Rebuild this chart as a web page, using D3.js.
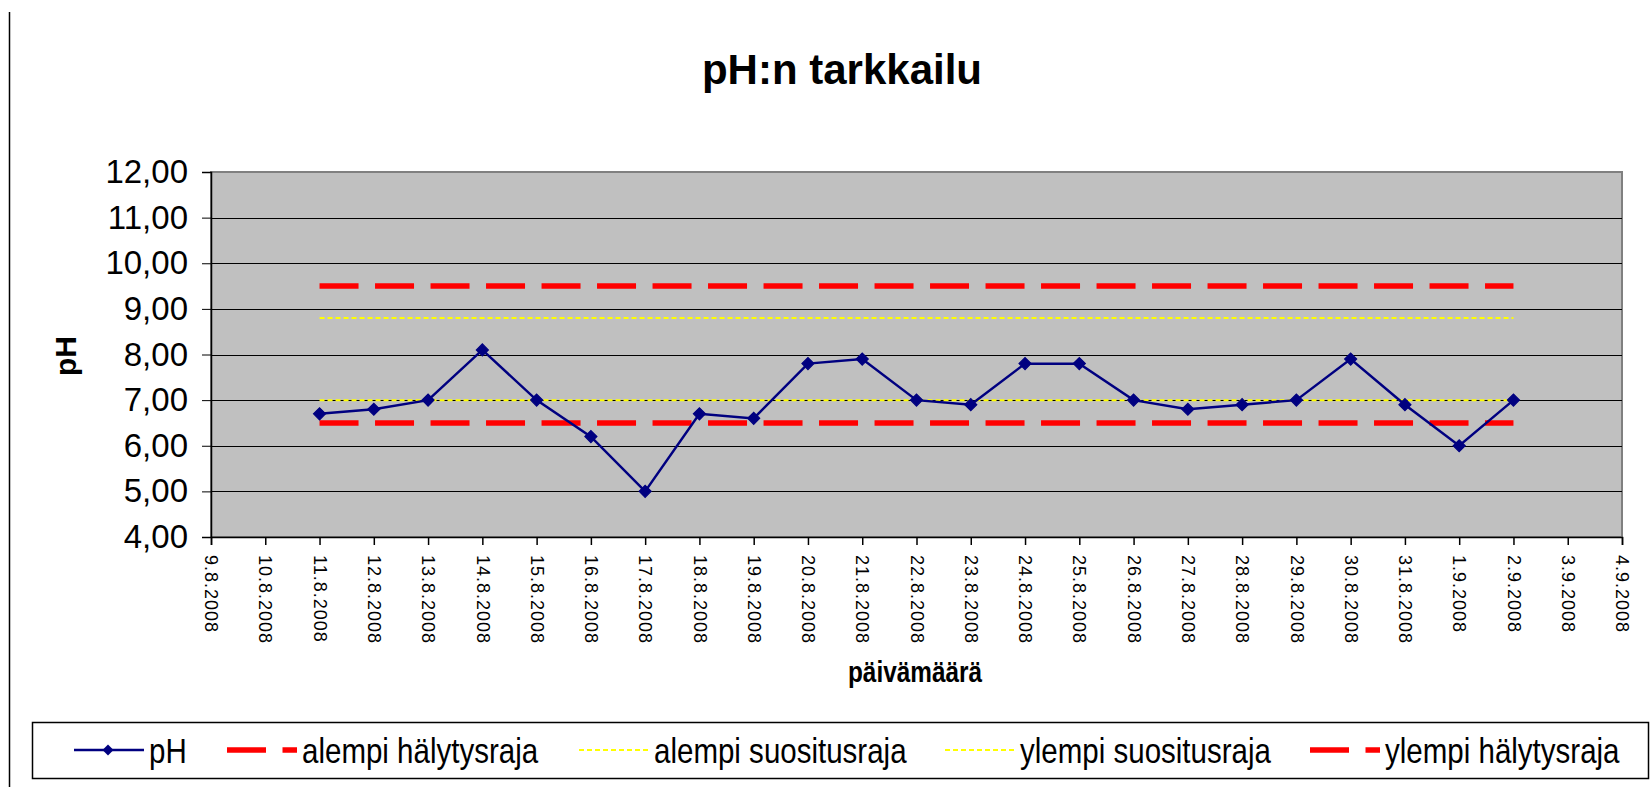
<!DOCTYPE html>
<html lang="fi">
<head>
    <title>pH:n tarkkailu</title>
    <script src="https://d3js.org/d3.v7.min.js" charset="utf-8"></script>
    <style type="text/css">
        body
        {
            margin: 0;
            background-color: white;
        }
        svg
        {
            display: block;
            font-family: "Liberation Sans", Arial, sans-serif;
        }
        #title
        {
            font-size: 42px;
            font-weight: 700;
        }
        .axis_title
        {
            font-weight: 700;
        }
        .legend_text
        {
            font-size: 36px;
        }
    </style>
</head>
<body>
    <div id="chart_div"></div>
    <script>
    "use strict";
    // x axis tick labels (every day from 9.8. to 4.9.2008)
    var tick_labels = ["9.8.2008", "10.8.2008", "11.8.2008", "12.8.2008", "13.8.2008", "14.8.2008",
        "15.8.2008", "16.8.2008", "17.8.2008", "18.8.2008", "19.8.2008", "20.8.2008", "21.8.2008",
        "22.8.2008", "23.8.2008", "24.8.2008", "25.8.2008", "26.8.2008", "27.8.2008", "28.8.2008",
        "29.8.2008", "30.8.2008", "31.8.2008", "1.9.2008", "2.9.2008", "3.9.2008", "4.9.2008"];
    var y_ticks = [4, 5, 6, 7, 8, 9, 10, 11, 12];

    // measurement dates
    var dates = ["11.8.2008", "12.8.2008", "13.8.2008", "14.8.2008", "15.8.2008", "16.8.2008",
        "17.8.2008", "18.8.2008", "19.8.2008", "20.8.2008", "21.8.2008", "22.8.2008", "23.8.2008",
        "24.8.2008", "25.8.2008", "26.8.2008", "27.8.2008", "28.8.2008", "29.8.2008", "30.8.2008",
        "31.8.2008", "1.9.2008", "2.9.2008"];
    var ph_values = [6.7, 6.8, 7.0, 8.1, 7.0, 6.2, 5.0, 6.7, 6.6, 7.8, 7.9, 7.0, 6.9, 7.8, 7.8,
        7.0, 6.8, 6.9, 7.0, 7.9, 6.9, 6.0, 7.0];
    var alempi_halytysraja = [6.5, 6.5, 6.5, 6.5, 6.5, 6.5, 6.5, 6.5, 6.5, 6.5, 6.5, 6.5, 6.5,
        6.5, 6.5, 6.5, 6.5, 6.5, 6.5, 6.5, 6.5, 6.5, 6.5];
    var alempi_suositusraja = [7.0, 7.0, 7.0, 7.0, 7.0, 7.0, 7.0, 7.0, 7.0, 7.0, 7.0, 7.0, 7.0,
        7.0, 7.0, 7.0, 7.0, 7.0, 7.0, 7.0, 7.0, 7.0, 7.0];
    var ylempi_suositusraja = [8.8, 8.8, 8.8, 8.8, 8.8, 8.8, 8.8, 8.8, 8.8, 8.8, 8.8, 8.8, 8.8,
        8.8, 8.8, 8.8, 8.8, 8.8, 8.8, 8.8, 8.8, 8.8, 8.8];
    var ylempi_halytysraja = [9.5, 9.5, 9.5, 9.5, 9.5, 9.5, 9.5, 9.5, 9.5, 9.5, 9.5, 9.5, 9.5,
        9.5, 9.5, 9.5, 9.5, 9.5, 9.5, 9.5, 9.5, 9.5, 9.5];
    var series_names = ["pH", "alempi hälytysraja", "alempi suositusraja", "ylempi suositusraja", "ylempi hälytysraja"];

    var svg_width = 1650;
    var svg_height = 787;
    var plot_left = 211;
    var plot_right = 1622;
    var plot_top = 172;
    var plot_bottom = 537;
    var narrow = 0.82; // the original fonts are drawn condensed

    var styles = [
        {stroke: "#000080", width: 2.5, dash: null},
        {stroke: "#ff0000", width: 5.5, dash: "39,16.5"},
        {stroke: "#ffff00", width: 2, dash: "5,3"},
        {stroke: "#ffff00", width: 2, dash: "5,3"},
        {stroke: "#ff0000", width: 5.5, dash: "39,16.5"}
    ];
    var all_series = [ph_values, alempi_halytysraja, alempi_suositusraja, ylempi_suositusraja, ylempi_halytysraja];

    var fi = d3.formatLocale({decimal: ",", thousands: " ", grouping: [3], currency: ["", " €"]});

    var x = d3.scalePoint()
        .domain(tick_labels)
        .range([plot_left, plot_right]);
    var y = d3.scaleLinear()
        .domain([4, 12])
        .range([plot_bottom, plot_top]);

    var chart_svg = d3.select("#chart_div")
        .append("svg")
        .attr("width", svg_width)
        .attr("height", svg_height);

    // left frame line
    chart_svg.append("line")
        .attr("x1", 9.5).attr("x2", 9.5)
        .attr("y1", 12).attr("y2", svg_height)
        .attr("stroke", "black")
        .attr("stroke-width", 1.5);

    chart_svg.append("text")
        .attr("id", "title")
        .text("pH:n tarkkailu")
        .attr("x", 842)
        .attr("y", 84)
        .style("text-anchor", "middle");

    // plot area
    chart_svg.append("rect")
        .attr("x", plot_left)
        .attr("y", plot_top)
        .attr("width", plot_right - plot_left)
        .attr("height", plot_bottom - plot_top)
        .attr("fill", "#c0c0c0")
        .attr("stroke", "#808080")
        .attr("stroke-width", 2);

    chart_svg.append("g")
        .selectAll("line")
        .data(y_ticks.slice(1, -1))
        .enter()
        .append("line")
        .attr("x1", plot_left)
        .attr("x2", plot_right)
        .attr("y1", function(d) { return Math.round(y(d)) + 0.5; })
        .attr("y2", function(d) { return Math.round(y(d)) + 0.5; })
        .attr("stroke", "black")
        .attr("stroke-width", 1);

    var y_axis = d3.axisLeft(y)
        .tickValues(y_ticks)
        .tickFormat(fi.format(".2f"))
        .tickSize(9)
        .tickPadding(14);
    chart_svg.append("g")
        .attr("transform", "translate(" + plot_left + ",0)")
        .call(y_axis)
        .call(function(g)
        {
            g.selectAll("text").style("font-size", "33px").attr("fill", "black");
            g.select(".domain").attr("stroke-width", 1.5);
        });

    var x_axis = d3.axisBottom(x)
        .tickSize(8)
        .tickPadding(0);
    chart_svg.append("g")
        .attr("transform", "translate(0," + plot_bottom + ")")
        .call(x_axis)
        .call(function(g)
        {
            g.select(".domain").attr("stroke-width", 1.5);
            g.selectAll("line").attr("stroke-width", 1.5);
            g.selectAll("text")
                .style("font-size", "18px")
                .style("letter-spacing", "1px")
                .attr("fill", "black")
                .attr("transform", "rotate(90)")
                .attr("x", 18)
                .attr("y", 0)
                .attr("dy", "0.35em")
                .style("text-anchor", "start");
        });

    chart_svg.append("text")
        .attr("class", "axis_title")
        .text("päivämäärä")
        .attr("transform", "translate(915,682) scale(0.84,1)")
        .style("font-size", "29px")
        .style("text-anchor", "middle");
    chart_svg.append("text")
        .attr("class", "axis_title")
        .text("pH")
        .attr("transform", "translate(76,356) rotate(-90)")
        .style("font-size", "30px")
        .style("text-anchor", "middle");

    // series lines, drawn limits first then pH on top
    var line = d3.line()
        .x(function(d, i) { return x(dates[i]); })
        .y(function(d) { return y(d); });
    var draw_order = [1, 4, 2, 3, 0];
    draw_order.forEach(function(s)
    {
        chart_svg.append("path")
            .datum(all_series[s])
            .attr("d", line)
            .attr("fill", "none")
            .attr("stroke", styles[s].stroke)
            .attr("stroke-width", styles[s].width)
            .attr("stroke-dasharray", styles[s].dash);
    });

    var diamond = d3.symbol().type(d3.symbolSquare).size(72);
    chart_svg.append("g")
        .selectAll("path")
        .data(ph_values)
        .enter()
        .append("path")
        .attr("d", diamond)
        .attr("transform", function(d, i) { return "translate(" + x(dates[i]) + "," + y(d) + ") rotate(45)"; })
        .attr("fill", "#000080")
        .attr("stroke", "#000080")
        .attr("stroke-width", 1.2);

    // legend
    var legend = chart_svg.append("g").attr("id", "legend");
    legend.append("rect")
        .attr("x", 32.5)
        .attr("y", 722.5)
        .attr("width", 1616)
        .attr("height", 56)
        .attr("fill", "white")
        .attr("stroke", "black")
        .attr("stroke-width", 1.5);
    var legend_line_x = [74, 227, 579, 945, 1310];
    var legend_y = 750;
    var legend_item = legend.selectAll("g.item")
        .data(series_names)
        .enter()
        .append("g")
        .attr("class", "item")
        .attr("transform", function(d, i) { return "translate(" + legend_line_x[i] + "," + legend_y + ")"; });
    legend_item.append("line")
        .attr("x1", 0)
        .attr("x2", 70)
        .attr("y1", 0)
        .attr("y2", 0)
        .attr("stroke", function(d, i) { return styles[i].stroke; })
        .attr("stroke-width", function(d, i) { return styles[i].width; })
        .attr("stroke-dasharray", function(d, i) { return styles[i].dash; });
    legend_item.filter(function(d, i) { return i === 0; })
        .append("path")
        .attr("d", d3.symbol().type(d3.symbolSquare).size(60))
        .attr("transform", "translate(34,0) rotate(45)")
        .attr("fill", "#000080");
    legend_item.append("text")
        .attr("class", "legend_text")
        .attr("transform", "translate(75,0) scale(" + narrow + ",1)")
        .attr("dy", "0.36em")
        .text(function(d) { return d; });
    </script>
</body>
</html>
